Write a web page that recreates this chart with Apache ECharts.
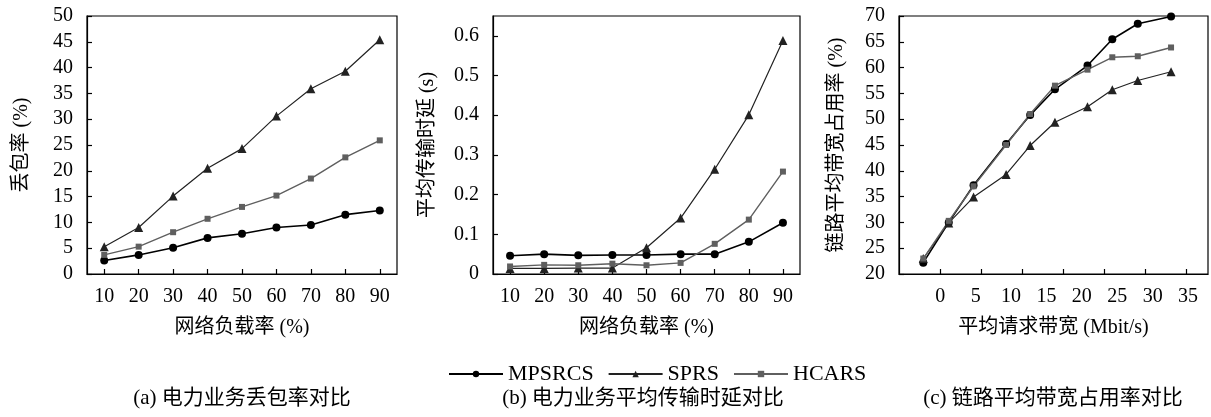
<!DOCTYPE html>
<html>
<head>
<meta charset="utf-8">
<script src="https://cdn.jsdelivr.net/npm/echarts@6/dist/echarts.min.js"></script>
<style>
html,body{margin:0;padding:0;background:#fff;}
#c{width:1211px;height:417px;}
</style>
</head>
<body>
<div id="c"></div>
<script>
// ---- data ----
const loadCats = ['10','20','30','40','50','60','70','80','90'];
// (a) packet loss (%)
const lossMPSRCS = [2.6, 3.7, 5.1, 7.0, 7.8, 9.0, 9.5, 11.5, 12.3];
const lossSPRS   = [5.3, 9.0, 15.1, 20.5, 24.3, 30.6, 35.9, 39.3, 45.4];
const lossHCARS  = [3.7, 5.3, 8.1, 10.7, 13.0, 15.2, 18.5, 22.6, 25.9];
// (b) average delay (s)
const delayMPSRCS = [0.046, 0.050, 0.047, 0.048, 0.048, 0.050, 0.050, 0.081, 0.129];
const delaySPRS   = [0.014, 0.014, 0.015, 0.015, 0.066, 0.141, 0.264, 0.401, 0.588];
const delayHCARS  = [0.019, 0.023, 0.022, 0.026, 0.022, 0.028, 0.076, 0.137, 0.258];
// (c) link bandwidth utilisation (%) vs average requested bandwidth
const bwX       = [-2.4, 1.2, 4.7, 9.3, 12.7, 16.2, 20.8, 24.3, 27.9, 32.6];
const utilMPSRCS = [22.2, 30.0, 37.2, 45.2, 50.8, 55.8, 60.4, 65.5, 68.5, 69.9];
const utilSPRS   = [23.0, 29.9, 34.9, 39.3, 44.9, 49.4, 52.4, 55.7, 57.5, 59.2];
const utilHCARS  = [23.0, 30.3, 37.0, 45.0, 51.0, 56.5, 59.6, 62.0, 62.2, 63.9];
const bwLabelVals = [0, 5, 10, 15, 20, 25, 30, 35];
const bwTickVals  = [0, 5.8, 11.6, 17.4, 23.2, 29.0, 34.8];

const names = ['MPSRCS', 'SPRS', 'HCARS'];
const subtitles = ['(a) 电力业务丢包率对比', '(b) 电力业务平均传输时延对比', '(c) 链路平均带宽占用率对比'];

const FONT = '"Liberation Serif", "Noto Sans CJK SC", serif';
const styles = {
  MPSRCS: {color: '#000000', symbol: 'circle', symbolSize: 8, width: 1.6},
  SPRS:   {color: '#222222', symbol: 'triangle', symbolSize: 9, width: 1.2},
  HCARS:  {color: '#5f5f5f', symbol: 'rect', symbolSize: 6, width: 1.4}
};

function mkSeries(name, data, idx) {
  const s = styles[name];
  return {
    name: name, type: 'line', xAxisIndex: idx, yAxisIndex: idx,
    data: data, symbol: s.symbol, symbolSize: s.symbolSize,
    showAllSymbol: true,
    lineStyle: {color: s.color, width: s.width},
    itemStyle: {color: s.color},
    emphasis: {disabled: true}, animation: false
  };
}

const grids = [
  {left: 87, top: 16, width: 310, height: 258},
  {left: 493, top: 16, width: 307, height: 258},
  {left: 899, top: 16, width: 309, height: 258}
].map(g => Object.assign(g, {show: true, borderColor: '#000', borderWidth: 1.2, containLabel: false}));

const axisLineCommon = {show: true, onZero: false, lineStyle: {color: '#000', width: 1.2}};
const tickCommon = {show: true, inside: true, length: 5, lineStyle: {color: '#000', width: 1.2}};
const labelCommon = {color: '#000', fontFamily: FONT, fontSize: 20};
const nameCommon = {color: '#000', fontFamily: FONT, fontSize: 20};

const xAxes = [
  {gridIndex: 0, type: 'category', data: loadCats, boundaryGap: true,
   axisLine: axisLineCommon, axisTick: Object.assign({alignWithLabel: true}, tickCommon),
   axisLabel: Object.assign({margin: 13}, labelCommon),
   name: '网络负载率 (%)', nameLocation: 'middle', nameGap: 44, nameTextStyle: nameCommon},
  {gridIndex: 1, type: 'category', data: loadCats, boundaryGap: true,
   axisLine: axisLineCommon, axisTick: Object.assign({alignWithLabel: true}, tickCommon),
   axisLabel: Object.assign({margin: 13}, labelCommon),
   name: '网络负载率 (%)', nameLocation: 'middle', nameGap: 44, nameTextStyle: nameCommon},
  {gridIndex: 2, type: 'value', min: -5.83, max: 37.82,
   axisLine: axisLineCommon,
   axisTick: Object.assign({customValues: bwTickVals}, tickCommon),
   axisLabel: Object.assign({margin: 13, customValues: bwLabelVals}, labelCommon),
   splitLine: {show: false},
   name: '平均请求带宽 (Mbit/s)', nameLocation: 'middle', nameGap: 44, nameTextStyle: nameCommon}
];

const yAxes = [
  {gridIndex: 0, type: 'value', min: 0, max: 50, interval: 5,
   axisLine: axisLineCommon, axisTick: tickCommon, splitLine: {show: false},
   axisLabel: Object.assign({margin: 14}, labelCommon),
   name: '丢包率 (%)', nameLocation: 'middle', nameGap: 55, nameTextStyle: nameCommon},
  {gridIndex: 1, type: 'value', min: 0, max: 0.65, interval: 0.1,
   axisLine: axisLineCommon, axisTick: tickCommon, splitLine: {show: false},
   axisLabel: Object.assign({margin: 14, showMaxLabel: false,
     formatter: v => (v === 0 ? '0' : (Math.abs(v * 10 - Math.round(v * 10)) < 1e-6 ? v.toFixed(1) : ''))}, labelCommon),
   name: '平均传输时延 (s)', nameLocation: 'middle', nameGap: 55, nameTextStyle: nameCommon},
  {gridIndex: 2, type: 'value', min: 20, max: 70, interval: 5,
   axisLine: axisLineCommon, axisTick: tickCommon, splitLine: {show: false},
   axisLabel: Object.assign({margin: 14}, labelCommon),
   name: '链路平均带宽占用率 (%)', nameLocation: 'middle', nameGap: 52, nameTextStyle: nameCommon}
];

const series = [
  mkSeries('MPSRCS', lossMPSRCS, 0),
  mkSeries('SPRS', lossSPRS, 0),
  mkSeries('HCARS', lossHCARS, 0),
  mkSeries('MPSRCS', delayMPSRCS, 1),
  mkSeries('SPRS', delaySPRS, 1),
  mkSeries('HCARS', delayHCARS, 1),
  mkSeries('MPSRCS', bwX.map((x, i) => [x, utilMPSRCS[i]]), 2),
  mkSeries('SPRS', bwX.map((x, i) => [x, utilSPRS[i]]), 2),
  mkSeries('HCARS', bwX.map((x, i) => [x, utilHCARS[i]]), 2)
];

const subX = [242, 643, 1053];
const graphic = subtitles.map((t, i) => ({
  type: 'text', x: subX[i], y: 398,
  style: {text: t, fill: '#000', fontFamily: FONT, fontSize: 21, textAlign: 'center', textVerticalAlign: 'middle'}
}));

const chart = echarts.init(document.getElementById('c'), null, {renderer: 'canvas'});
chart.setOption({
  animation: false,
  backgroundColor: '#fff',
  grid: grids,
  xAxis: xAxes,
  yAxis: yAxes,
  legend: {
    data: names, top: 358, left: 443,
    itemWidth: 54, itemHeight: 8, itemGap: 14,
    textStyle: {color: '#000', fontFamily: FONT, fontSize: 22},
    selectedMode: false
  },
  series: series,
  graphic: graphic
});
</script>
</body>
</html>
